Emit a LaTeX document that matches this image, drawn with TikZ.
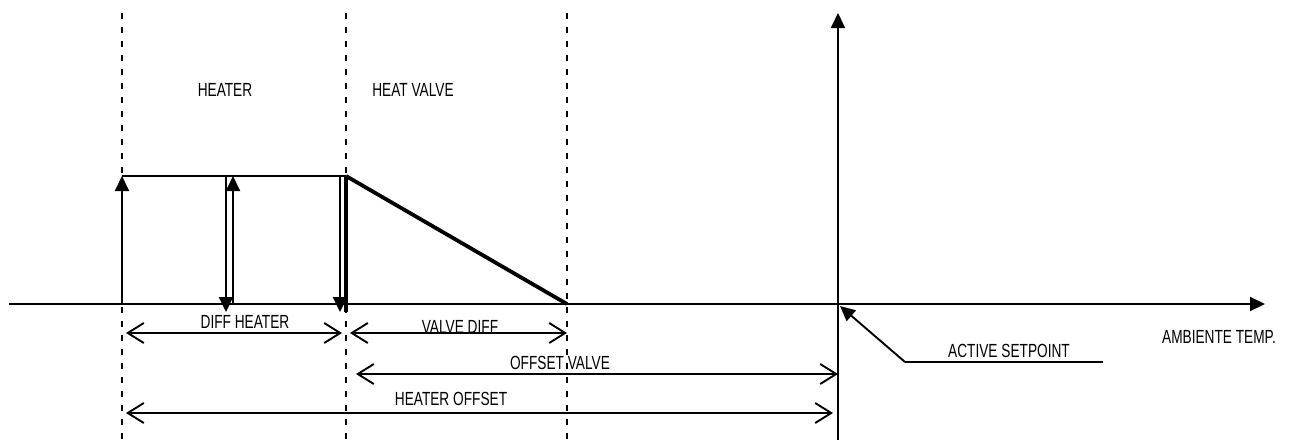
\documentclass[tikz,border=0pt]{standalone}
\usepackage{fontspec}
\setmainfont{Liberation Sans}[FakeStretch=0.72]
\usepackage{tikz}
\usetikzlibrary{arrows.meta}

\begin{document}
\begin{tikzpicture}[x=1pt, y=-1pt,
    axis/.style={line width=1.9pt},
    guide/.style={line width=2.2pt, dash pattern=on 6pt off 8pt},
    level/.style={line width=2.8pt},
    heavy/.style={line width=3.8pt},
    head/.style={-{Triangle[length=15pt,width=14pt]}},
    dim/.style={line width=1.9pt, {Straight Barb[length=16pt,width=20pt]}-{Straight Barb[length=16pt,width=20pt]}},
    lbl/.style={font=\fontsize{19}{21}\selectfont, anchor=base, inner sep=0pt}]
\useasboundingbox (0,0) rectangle (1299,440);
% guides
\foreach \x/\n in {122/a,346/b,567/c}{
    \coordinate (\n top) at (\x,13);
    \coordinate (\n bot) at (\x,440);
    \draw[guide] (\n top) -- (\n bot);
}
% axes
\coordinate (O) at (838,304);
\coordinate (xs) at (9,304);
\coordinate (xe) at (1265,304);
\coordinate (ys) at (838,440);
\coordinate (ye) at (838,13);
\draw[axis,head] (xs) -- (xe);
\draw[axis,head] (ys) -- (ye);
\node[lbl] (temp) at (1219,343) {AMBIENTE TEMP.};
% heater and valve
\coordinate (h0) at (122,304);
\coordinate (h1) at (122,176);
\coordinate (h2) at (346,176);
\coordinate (h3) at (346,312);
\coordinate (v0) at (567,304);
\draw[axis,head] (h0) -- (h1);
\draw[level] (h1) -- (h2);
\draw[heavy] (h2) -- (h3);
\draw[heavy] (h2) -- (v0);
\coordinate (d1) at (226,176);
\coordinate (d2) at (226,312);
\coordinate (u1) at (233,304);
\coordinate (u2) at (233,176);
\coordinate (e1) at (340,176);
\coordinate (e2) at (340,312);
\draw[axis,head] (d1) -- (d2);
\draw[axis,head] (u1) -- (u2);
\draw[axis,head] (e1) -- (e2);
\node[lbl] (heater) at (225,96) {HEATER};
\node[lbl] (valve) at (413,96) {HEAT VALVE};
% dimensions
\coordinate (dh1) at (126,333);
\coordinate (dh2) at (342,333);
\coordinate (vd1) at (350,333);
\coordinate (vd2) at (567,333);
\coordinate (ov1) at (356,374);
\coordinate (ov2) at (838,374);
\coordinate (ho1) at (126,413);
\coordinate (ho2) at (833,413);
\draw[dim] (dh1) -- (dh2);
\draw[dim] (vd1) -- (vd2);
\draw[dim] (ov1) -- (ov2);
\draw[dim] (ho1) -- (ho2);
\node[lbl] (diffh) at (245,328) {DIFF HEATER};
\node[lbl] (diffv) at (460,333) {VALVE DIFF};
\node[lbl] (offv) at (560,369) {OFFSET VALVE};
\node[lbl] (offh) at (451,405) {HEATER OFFSET};
% setpoint
\coordinate (sp0) at (840,306);
\coordinate (sp1) at (905,362);
\coordinate (sp2) at (1103,362);
\draw[axis,head] (sp1) -- (sp0);
\draw[axis] (sp1) -- (sp2);
\node[lbl] (setp) at (1009,357) {ACTIVE SETPOINT};
\end{tikzpicture}
\end{document}
